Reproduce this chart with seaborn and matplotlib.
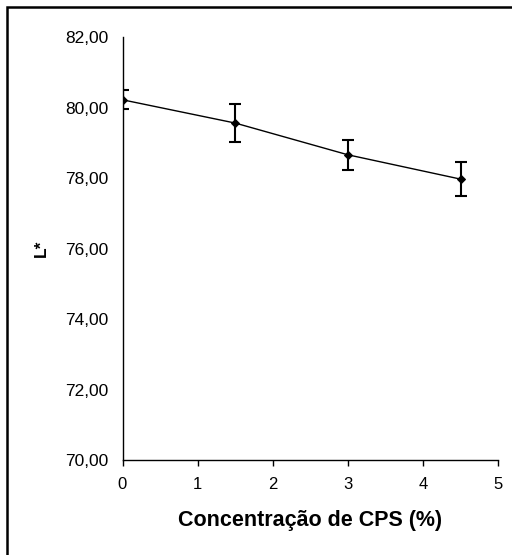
import matplotlib
matplotlib.use("Agg")
import matplotlib.pyplot as plt
import seaborn as sns
import pandas as pd
from matplotlib.patches import Rectangle

# Data
concentration = [0, 1.5, 3, 4.5]
L_values = [80.22, 79.56, 78.66, 77.97]
L_errors = [0.27, 0.55, 0.43, 0.49]
x_ticks = [0, 1, 2, 3, 4, 5]
y_ticks = [70, 72, 74, 76, 78, 80, 82]
y_tick_labels = ["70,00", "72,00", "74,00", "76,00", "78,00", "80,00", "82,00"]

sns.set_theme(style="white")
plt.rcParams['font.family'] = ['Liberation Sans', 'DejaVu Sans']
plt.rcParams['text.color'] = 'black'
plt.rcParams['axes.labelcolor'] = 'black'
plt.rcParams['xtick.color'] = 'black'
plt.rcParams['ytick.color'] = 'black'

df = pd.DataFrame({"conc": concentration, "L": L_values})

fig = plt.figure(figsize=(5.12, 5.55), dpi=100)
ax = fig.add_axes([122.5/512, 1-460.3/555, (498.3-122.5)/512, (460.3-37)/555])

ax.errorbar(concentration, L_values, yerr=L_errors, fmt='none', ecolor='black',
            elinewidth=1.5, capsize=4, capthick=1.5, zorder=2)
sns.lineplot(data=df, x="conc", y="L", ax=ax, color='black', linewidth=1.0,
             marker='D', markersize=4.5, markeredgecolor='black',
             markerfacecolor='black', zorder=3)

ax.set_xlim(0, 5)
ax.set_ylim(70, 82)
ax.set_xticks(x_ticks)
ax.set_xticklabels([str(t) for t in x_ticks])
ax.set_yticks(y_ticks)
ax.set_yticklabels(y_tick_labels)

for s in ['top', 'right']:
    ax.spines[s].set_visible(False)
for s in ['left', 'bottom']:
    ax.spines[s].set_color('black')
    ax.spines[s].set_linewidth(1.0)

ax.tick_params(axis='x', which='both', direction='out', length=4, width=1,
               color='black', labelcolor='black', labelsize=12, pad=8, bottom=True)
ax.tick_params(axis='y', which='both', length=0, labelsize=12.5, labelcolor='black',
               pad=10, left=True)

ax.set_xlabel("Concentração de CPS (%)", fontsize=15.5, fontweight='bold',
              labelpad=13, color='black')
ax.set_ylabel("L*", fontsize=12.5, fontweight='bold', labelpad=12, color='black')
ax.grid(False)

border = Rectangle((7/512, -0.1), 1.2, 1 - 7/555 + 0.1, transform=fig.transFigure,
                   fill=False, edgecolor='black', linewidth=1.8, clip_on=False)
fig.patches.append(border)

fig.savefig("out.png", dpi=100)
